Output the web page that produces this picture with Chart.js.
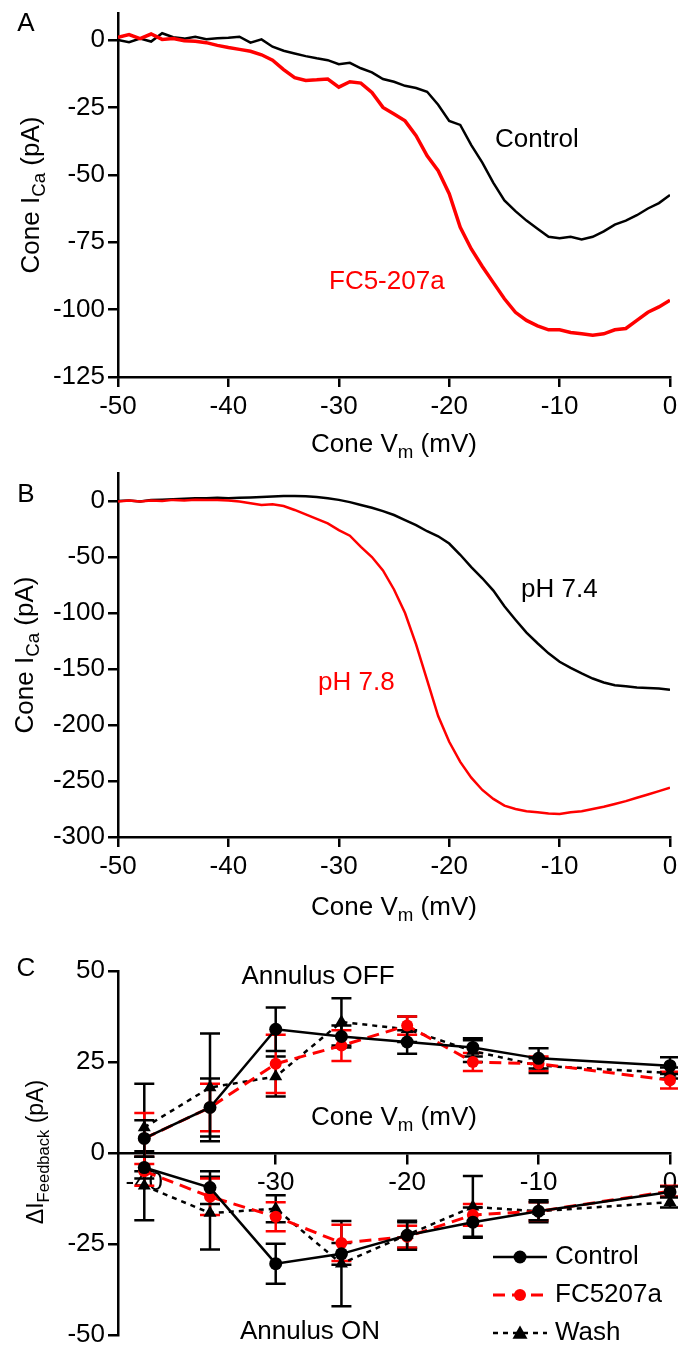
<!DOCTYPE html>
<html>
<head>
<meta charset="utf-8">
<script src="https://cdn.jsdelivr.net/npm/chart.js@4/dist/chart.umd.min.js"></script>
<style>
  html, body { margin: 0; padding: 0; background: #fff; }
  #wrap { position: relative; width: 678px; height: 1348px; }
  canvas { position: absolute; left: 0; }
</style>
</head>
<body>
<div id="wrap">
  <canvas id="chartA" width="678" height="465" style="top:0px"></canvas>
  <canvas id="chartB" width="678" height="465" style="top:465px"></canvas>
  <canvas id="chartC" width="678" height="418" style="top:930px"></canvas>
</div>
<script>
// ---- data ----
// panel A and B: cone voltage (mV), every 1 mV
const voltsAB = [-50, -49, -48, -47, -46, -45, -44, -43, -42, -41, -40, -39, -38, -37, -36, -35, -34,
  -33, -32, -31, -30, -29, -28, -27, -26, -25, -24, -23, -22, -21, -20, -19, -18, -17, -16, -15, -14,
  -13, -12, -11, -10, -9, -8, -7, -6, -5, -4, -3, -2, -1, 0];

// panel A: cone ICa (pA)
const controlA = [0, -0.8, 0.5, -0.6, 2.5, 1.0, 0.5, 1.2, 0.3, 0.6, 0.8, 1.2, -1.0, 0.2, -2.5, -4.0, -5.0,
  -6.0, -6.8, -7.5, -9.0, -8.5, -10.5, -12.0, -14.5, -15.5, -17.0, -17.8, -19.2, -24.0, -30.0, -31.5, -39.0,
  -45.5, -53.0, -59.5, -63.5, -67.0, -70.0, -73.0, -73.5, -73.0, -74.0, -73.0, -71.0, -68.5, -67.0, -65.0,
  -62.5, -60.5, -57.5];
const fc5A = [1.0, 2.0, 0.5, 2.2, 0.2, 0.5, -0.3, -0.5, -1.0, -2.0, -2.8, -3.5, -4.2, -5.5, -7.5, -11.0, -14.0,
  -15.0, -14.8, -14.5, -17.5, -15.5, -16.0, -19.5, -25.0, -27.5, -30.0, -35.5, -43.0, -48.5, -57.0, -69.5, -77.5,
  -84.0, -90.0, -96.0, -101.0, -104.0, -106.0, -107.5, -107.5, -108.5, -109.0, -109.5, -109.0, -107.5, -107.0,
  -104.0, -101.0, -99.0, -96.5];

// panel B: cone ICa (pA)
const ph74B = [0, 0.5, -0.5, 0.8, 1.2, 1.5, 2.0, 2.5, 2.5, 2.8, 2.5, 3.0, 3.2, 3.5, 4.0, 4.5, 4.5,
  4.2, 3.5, 2.5, 1.0, -1.0, -3.5, -6.0, -9.0, -12.5, -17.0, -21.5, -27.0, -31.5, -38.0, -48.0, -59.0,
  -69.0, -80.0, -94.0, -106.0, -117.5, -127.0, -136.0, -143.5, -149.0, -154.0, -158.5, -162.0, -164.5,
  -165.5, -166.5, -167.0, -167.5, -168.5];
const ph78B = [-0.5, 0.5, -0.5, 0.5, 0, 1.0, 0.5, 1.2, 0.8, 1.0, 0.5, -0.5, -2.0, -3.5, -3.0, -4.5, -8.0,
  -12.0, -16.0, -20.0, -26.0, -31.0, -41.0, -50.0, -62.0, -79.0, -100.0, -128.0, -160.0, -192.0, -215.0,
  -233.0, -247.0, -258.0, -266.0, -272.0, -275.0, -277.0, -278.0, -279.0, -279.5, -278.0, -277.0, -275.0,
  -273.0, -270.5, -268.0, -265.0, -262.0, -259.0, -256.0];

// panel C: feedback current (pA), mean and error
const voltsC = [-40, -35, -30, -25, -20, -15, -10, 0];
const offControl = [4, 12.5, 34, 32, 30.5, 29, 26, 24];
const offControlErr = [5, 8, 6, 3, 3.2, 2.5, 2.8, 2.3];
const offFC = [4, 12.5, 24.5, 29.5, 35, 25, 24.5, 20];
const offFCErr = [7, 6.5, 8, 4.2, 2.5, 2.5, 2, 2.3];
const offWash = [7, 18, 21, 36, 34, 28, 24, 22];
const offWashErr = [12, 14.8, 5.5, 6.5, 3.5, 3, 2, 1.5];
const onControl = [-4, -9.5, -30.4, -27.7, -22.6, -19, -16, -10.7];
const onControlErr = [3, 4.5, 5.5, 3, 4, 4, 2.5, 1.5];
const onFC = [-5, -12, -17.5, -24.7, -23, -17, -16, -10.5];
const onFCErr = [4, 5, 4, 5, 3, 3, 2.5, 1.5];
const onWash = [-9, -16.5, -15.3, -30.4, -22.5, -14.8, -16, -13.5];
const onWashErr = [9.5, 10, 3.7, 11.7, 3.5, 8.5, 3, 1.5];

// tick labels
const ticksX_AB = [-50, -40, -30, -20, -10, 0];
const ticksY_A = [-125, -100, -75, -50, -25, 0];
const ticksY_B = [-300, -250, -200, -150, -100, -50, 0];
const ticksX_C = [-40, -30, -20, -10, 0];
const ticksY_C = [-50, -25, 0, 25, 50];

// ---- helpers ----
const FONT = '"Liberation Sans", Arial, sans-serif';
Chart.defaults.font.family = FONT;
Chart.defaults.font.size = 26;
Chart.defaults.color = '#000';

function pts(xs, ys) {
  return xs.map((x, i) => ({ x: x, y: ys[i] }));
}

function fixTicks(list) {
  return s => { s.ticks = list.map(v => ({ value: v })); };
}

// text with optional subscript parts: parts = [[text, isSub], ...]
function richText(ctx, parts, x, y, size, opts) {
  opts = opts || {};
  ctx.save();
  ctx.translate(x, y);
  if (opts.rotate) ctx.rotate(-Math.PI / 2);
  ctx.textBaseline = 'middle';
  ctx.textAlign = 'left';
  ctx.fillStyle = opts.color || '#000';
  const widths = parts.map(p => {
    ctx.font = (p[1] ? size * 0.72 : size) + 'px ' + FONT;
    return ctx.measureText(p[0]).width;
  });
  const total = widths.reduce((a, b) => a + b, 0);
  let cx = opts.align === 'left' ? 0 : -total / 2;
  parts.forEach((p, i) => {
    ctx.font = (p[1] ? size * 0.72 : size) + 'px ' + FONT;
    ctx.fillText(p[0], cx, p[1] ? size * 0.32 : 0);
    cx += widths[i];
  });
  ctx.restore();
}

function textPlugin(id, items) {
  return {
    id: id,
    afterDraw(chart) {
      items.forEach(t => richText(chart.ctx, t.parts, t.x, t.y, t.size || 26, t));
    }
  };
}

function axisStyle() {
  return {
    border: { color: '#000', width: 2.5 },
    grid: { drawOnChartArea: false, drawTicks: true, tickLength: 10, color: '#000', lineWidth: 2.5 },
  };
}

function makeTrace(canvasId, sets, yMin, yMax, yTicks, xHeight, padTop, texts) {
  const ys = axisStyle();
  const xs = axisStyle();
  return new Chart(document.getElementById(canvasId), {
    type: 'line',
    data: {
      datasets: sets.map(s => ({
        data: pts(voltsAB, s.values),
        borderColor: s.color,
        borderWidth: s.width,
        pointRadius: 0,
        tension: 0,
        fill: false
      }))
    },
    options: {
      responsive: false,
      animation: false,
      layout: { padding: { top: padTop, right: 8, left: 0, bottom: 0 } },
      plugins: { legend: { display: false }, tooltip: { enabled: false } },
      scales: {
        x: Object.assign(xs, {
          type: 'linear', min: -50, max: 0,
          ticks: { padding: 4, color: '#000' },
          afterBuildTicks: fixTicks(ticksX_AB),
          afterFit: s => { s.height = xHeight; s.paddingLeft = 0; s.paddingRight = 0; }
        }),
        y: Object.assign(ys, {
          min: yMin, max: yMax,
          ticks: { padding: 3, color: '#000' },
          afterBuildTicks: fixTicks(yTicks),
          afterFit: s => { s.width = 118; s.paddingTop = 0; s.paddingBottom = 0; }
        })
      }
    },
    plugins: [textPlugin(canvasId + 'Text', texts)]
  });
}

// ---- panel A ----
makeTrace('chartA', [
  { values: fc5A, color: '#ff0000', width: 3.5 },
  { values: controlA, color: '#000000', width: 2.5 }
], -125, 10, ticksY_A, 88, 13, [
  { parts: [['A']], x: 26, y: 24 },
  { parts: [['Cone I'], ['Ca', true], [' (pA)']], x: 32, y: 195, rotate: true },
  { parts: [['Cone V'], ['m', true], [' (mV)']], x: 394, y: 445 },
  { parts: [['Control']], x: 495, y: 140, align: 'left' },
  { parts: [['FC5-207a']], x: 329, y: 282, align: 'left', color: '#ff0000' }
]);

// ---- panel B ----
makeTrace('chartB', [
  { values: ph78B, color: '#ff0000', width: 2.5 },
  { values: ph74B, color: '#000000', width: 2.5 }
], -300, 25, ticksY_B, 93, 8, [
  { parts: [['B']], x: 26, y: 30 },
  { parts: [['Cone I'], ['Ca', true], [' (pA)']], x: 26, y: 190, rotate: true },
  { parts: [['Cone V'], ['m', true], [' (mV)']], x: 394, y: 443 },
  { parts: [['pH 7.4']], x: 521, y: 125, align: 'left' },
  { parts: [['pH 7.8']], x: 318, y: 218, align: 'left', color: '#ff0000' }
]);

// ---- panel C ----
const errorBars = {
  id: 'errorBars',
  beforeDatasetsDraw(chart) {
    const { ctx, scales: { x, y } } = chart;
    chart.data.datasets.slice().reverse().forEach(ds => {
      ctx.save();
      ctx.strokeStyle = ds.borderColor;
      ctx.lineWidth = 2.5;
      ctx.setLineDash([]);
      ds.data.forEach((p, i) => {
        const px = x.getPixelForValue(p.x);
        const top = y.getPixelForValue(p.y + ds.errors[i]);
        const bot = y.getPixelForValue(p.y - ds.errors[i]);
        ctx.beginPath();
        ctx.moveTo(px, top); ctx.lineTo(px, bot);
        ctx.moveTo(px - 10, top); ctx.lineTo(px + 10, top);
        ctx.moveTo(px - 10, bot); ctx.lineTo(px + 10, bot);
        ctx.stroke();
      });
      ctx.restore();
    });
  }
};

const seriesStyle = {
  control: { label: 'Control', color: '#000000', dash: [], width: 2.5, point: 'circle', r: 6.5 },
  fc: { label: 'FC5207a', color: '#ff0000', dash: [12, 7], width: 3, point: 'circle', r: 6 },
  wash: { label: 'Wash', color: '#000000', dash: [5, 5], width: 2.5, point: 'triangle', r: 7.5 }
};

function feedbackSet(st, values, errs) {
  return {
    label: st.label,
    data: pts(voltsC, values),
    errors: errs,
    borderColor: st.color,
    backgroundColor: st.color,
    borderWidth: st.width,
    borderDash: st.dash,
    pointStyle: st.point,
    pointRadius: st.r,
    pointBorderWidth: 0,
    pointBackgroundColor: st.color,
    tension: 0,
    clip: false,
    fill: false
  };
}

const legendC = {
  id: 'legendC',
  afterDraw(chart) {
    const ctx = chart.ctx;
    const rows = [seriesStyle.control, seriesStyle.fc, seriesStyle.wash];
    rows.forEach((st, i) => {
      const y = 327 + i * 38;
      ctx.save();
      ctx.strokeStyle = st.color;
      ctx.lineWidth = st.width;
      ctx.setLineDash(st.dash);
      ctx.beginPath(); ctx.moveTo(493, y); ctx.lineTo(547, y); ctx.stroke();
      ctx.setLineDash([]);
      ctx.fillStyle = st.color;
      ctx.beginPath();
      if (st.point === 'circle') {
        ctx.arc(520, y, st.r, 0, Math.PI * 2);
      } else {
        ctx.moveTo(520, y - st.r); ctx.lineTo(520 + st.r, y + st.r * 0.75); ctx.lineTo(520 - st.r, y + st.r * 0.75);
        ctx.closePath();
      }
      ctx.fill();
      ctx.restore();
      richText(ctx, [[st.label]], 555, y, 26, { align: 'left' });
    });
  }
};

const ysC = axisStyle();
const xsC = axisStyle();
new Chart(document.getElementById('chartC'), {
  type: 'line',
  data: {
    datasets: [
      feedbackSet(seriesStyle.control, offControl, offControlErr),
      feedbackSet(seriesStyle.fc, offFC, offFCErr),
      feedbackSet(seriesStyle.wash, offWash, offWashErr),
      feedbackSet(seriesStyle.control, onControl, onControlErr),
      feedbackSet(seriesStyle.fc, onFC, onFCErr),
      feedbackSet(seriesStyle.wash, onWash, onWashErr)
    ]
  },
  options: {
    responsive: false,
    animation: false,
    layout: { padding: { top: 41, right: 8, left: 0, bottom: 13 } },
    plugins: { legend: { display: false }, tooltip: { enabled: false } },
    scales: {
      x: Object.assign(xsC, {
        type: 'linear', min: -42, max: 0, position: { y: 0 },
        ticks: { padding: 4, color: '#000' },
        afterBuildTicks: fixTicks(ticksX_C),
        afterFit: s => { s.paddingLeft = 0; s.paddingRight = 0; }
      }),
      y: Object.assign(ysC, {
        min: -50, max: 50,
        ticks: { padding: 3, color: '#000' },
        afterBuildTicks: fixTicks(ticksY_C),
        afterFit: s => { s.width = 118; s.paddingTop = 0; s.paddingBottom = 0; }
      })
    }
  },
  plugins: [errorBars, legendC, textPlugin('chartCText', [
    { parts: [['C']], x: 26, y: 39 },
    { parts: [['\u0394I'], ['Feedback', true], [' (pA)']], x: 37, y: 222, rotate: true, size: 23 },
    { parts: [['Annulus OFF']], x: 318, y: 47 },
    { parts: [['Cone V'], ['m', true], [' (mV)']], x: 394, y: 188 },
    { parts: [['Annulus ON']], x: 310, y: 402 }
  ])]
});
</script>
</body>
</html>
